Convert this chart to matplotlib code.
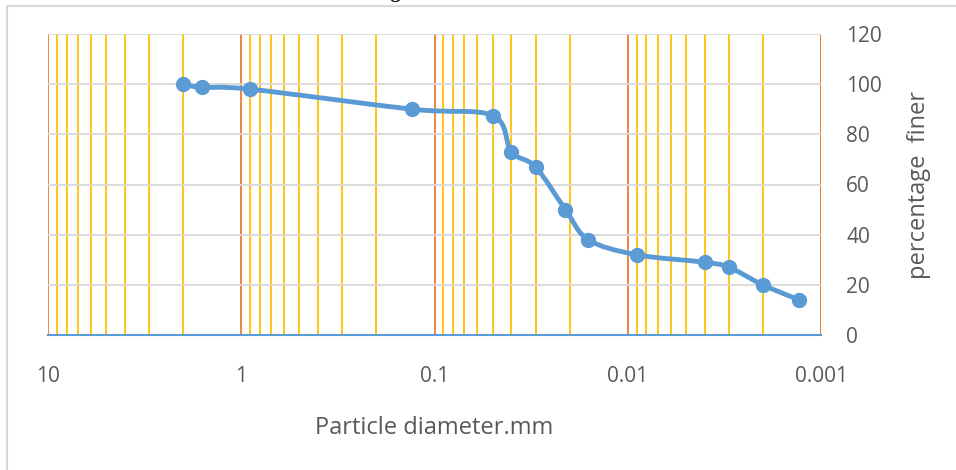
import matplotlib
matplotlib.use("Agg")
import matplotlib.pyplot as plt
import numpy as np
from matplotlib.path import Path
from matplotlib.patches import PathPatch, Rectangle
from matplotlib.ticker import FixedLocator, NullFormatter

# ── data ─────────────────────────────────────────────────────────────
diameter_mm = [2.0, 1.6, 0.9, 0.13, 0.05, 0.04, 0.03, 0.021, 0.016,
               0.009, 0.004, 0.003, 0.002, 0.0013]
percent_finer = [100, 98.7, 98, 90, 87.5, 73, 67, 50, 38, 32, 29, 27, 20, 14]

x_ticks = [10, 1, 0.1, 0.01, 0.001]
x_tick_labels = ["10", "1", "0.1", "0.01", "0.001"]
y_ticks = [0, 20, 40, 60, 80, 100, 120]

BLUE = "#5b9bd5"
ORANGE = "#ed7d31"
YELLOW = "#ffc000"
GRID = "#d9d9d9"
TEXT = "#595959"

plt.rcParams["font.family"] = ["Open Sans", "DejaVu Sans"]


def smooth_path(xs, ys):
    """Catmull-Rom style bezier through the points, built in (log x, y) space."""
    u = np.log10(np.asarray(xs, dtype=float))
    v = np.asarray(ys, dtype=float)
    pts = np.column_stack([u, v])
    n = len(pts)
    verts = [pts[0]]
    codes = [Path.MOVETO]
    for i in range(n - 1):
        p0 = pts[i - 1] if i > 0 else pts[i]
        p1 = pts[i]
        p2 = pts[i + 1]
        p3 = pts[i + 2] if i + 2 < n else pts[i + 1]
        c1 = p1 + (p2 - p0) / 6.0
        c2 = p2 - (p3 - p1) / 6.0
        verts += [c1, c2, p2]
        codes += [Path.CURVE4] * 3
    verts = np.array(verts)
    verts[:, 0] = 10 ** verts[:, 0]
    return Path(verts, codes)


fig = plt.figure(figsize=(9.56, 4.70), dpi=100)
ax = fig.add_axes([48 / 956, 1 - 335 / 470, (821 - 48) / 956, (335 - 34) / 470])

# outer chart border (light grey), runs off the right and bottom edges
fig.patches.append(Rectangle((7 / 956, -0.1), 1.2, 1 - 6 / 470 + 0.1,
                             transform=fig.transFigure, fill=False,
                             edgecolor=GRID, linewidth=1.5))

# title is cut off at the top, only the descender shows
fig.text(330 / 956, 1 + 2 / 470, "Grading curve", ha="left", va="baseline",
         fontsize=14, fontweight="bold", family="Liberation Serif", color="black")

ax.set_xscale("log")
ax.set_xlim(10, 0.001)
ax.set_ylim(0, 120)

# vertical gridlines: decades orange, minors yellow
ax.xaxis.set_major_locator(FixedLocator(x_ticks))
ax.xaxis.set_minor_locator(FixedLocator(
    [m * 10.0 ** e for e in range(-3, 1) for m in range(2, 10)]))
ax.xaxis.set_minor_formatter(NullFormatter())
ax.set_xticklabels(x_tick_labels)
ax.grid(True, which="minor", axis="x", color=YELLOW, linewidth=1.3)
ax.grid(True, which="major", axis="x", color=ORANGE, linewidth=1.3)
ax.set_yticks(y_ticks)
ax.grid(True, which="major", axis="y", color=GRID, linewidth=1.3)
ax.set_axisbelow(True)

for side in ("top", "left", "right"):
    ax.spines[side].set_visible(False)
ax.spines["bottom"].set_color(BLUE)
ax.spines["bottom"].set_linewidth(1.5)
ax.axvline(0.001, color=ORANGE, linewidth=1.3, zorder=0.5)

ax.yaxis.tick_right()
ax.yaxis.set_label_position("right")
ax.tick_params(axis="both", which="both", length=0, colors=TEXT, labelsize=15)
ax.tick_params(axis="x", pad=22)
ax.tick_params(axis="y", pad=18)
for lbl in ax.get_yticklabels():
    lbl.set_horizontalalignment("left")

ax.set_xlabel("Particle diameter.mm", fontsize=17, color=TEXT, labelpad=21)
ax.set_ylabel("percentage  finer", fontsize=17, color=TEXT, labelpad=18)

# smoothed line + markers
ax.add_patch(PathPatch(smooth_path(diameter_mm, percent_finer), fill=False,
                       edgecolor=BLUE, linewidth=3.5, capstyle="round",
                       joinstyle="round", zorder=3))
ax.plot(diameter_mm, percent_finer, linestyle="none", marker="o",
        markersize=10, color=BLUE, zorder=4, clip_on=False)

fig.savefig("out.png", dpi=100)
